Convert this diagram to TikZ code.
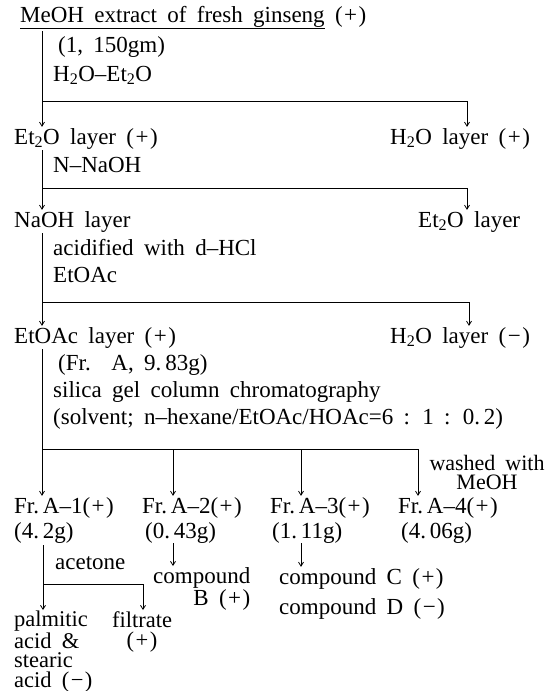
\documentclass[tikz,border=0pt]{standalone}
\usepackage{fontspec}
\setmainfont{Liberation Serif}[WordSpace={1.8}]
\usetikzlibrary{arrows.meta}
\newcommand\sbt[1]{\textsubscript{#1}}
\newcommand\pl{(\kern1.5pt+\kern1.5pt)}
\newcommand\mn{(\kern1.5pt−\kern1.5pt)}
\begin{document}
\begin{tikzpicture}[x=1pt,y=-1pt,
  font=\fontsize{23}{21}\selectfont,
  txt/.style={anchor=base west, inner sep=0pt},
  ln/.style={line width=0.8pt},
  arr/.style={line width=0.8pt, -{Straight Barb[length=4pt,width=5pt]}, shorten >=1pt}]
\useasboundingbox[fill=white] (0,0) rectangle (550,691);

% texts
\node[txt] (t0) at (20,22) {\underline{MeOH extract of fresh ginseng} \pl};
\node[txt] (w1) at (58,52) {(1, 150gm)};
\node[txt] (s1) at (53,81) {H\sbt{2}O–Et\sbt{2}O};
\node[txt] (et1) at (14,144) {Et\sbt{2}O layer \pl};
\node[txt] (aq1) at (390,144) {H\sbt{2}O layer \pl};
\node[txt] (s2) at (53,172) {N–NaOH};
\node[txt] (na) at (14,227) {NaOH layer};
\node[txt] (et2) at (418,227) {Et\sbt{2}O layer};
\node[txt] (s3) at (53,255) {acidified with d–HCl};
\node[txt] (s4) at (53,282) {EtOAc};
\node[txt] (ea) at (14,343) {EtOAc layer \pl};
\node[txt] (aq2) at (390,343) {H\sbt{2}O layer \mn};
\node[txt] (w2) at (58,370) {(Fr.\ \ A, 9.\,83g)};
\node[txt] (s5) at (53,397) {silica gel column chromatography};
\node[txt] (s6) at (53,424) {(solvent; n–hexane/EtOAc/HOAc=6 : 1 : 0.\,2)};
\node[anchor=north, inner sep=0pt, align=center, font=\fontsize{22}{19}\selectfont] (wash) at (487,455) {washed with\\MeOH};
\node[txt] (a1) at (14,513) {Fr.\,A–1\pl};
\node[txt] (a2) at (142,513) {Fr.\,A–2\pl};
\node[txt] (a3) at (270,513) {Fr.\,A–3\pl};
\node[txt] (a4) at (398,513) {Fr.\,A–4\pl};
\node[txt] (g1) at (14,538) {(4.\,2g)};
\node[txt] (g2) at (145,538) {(0.\,43g)};
\node[txt] (g3) at (272,538) {(1.\,11g)};
\node[txt] (g4) at (401,538) {(4.\,06g)};
\node[txt] (ac) at (55,569) {acetone};
\node[anchor=north west, inner sep=0pt, align=right, font=\fontsize{23}{18}\selectfont] (cb) at (153,567) {compound\\B \pl};
\node[txt] (cc) at (279,584) {compound C \pl};
\node[txt] (cd) at (279,614) {compound D \mn};
\node[anchor=north west, inner sep=0pt, align=left, font=\fontsize{22.5}{19.5}\selectfont] (pa) at (14,611) {palmitic\\acid \&\\stearic\\acid \mn};
\node[anchor=north, inner sep=0pt, align=center, font=\fontsize{22.5}{20.5}\selectfont] (fi) at (142,611) {filtrate\\\pl};

% junctions
\coordinate (v0) at (42,31);
\coordinate (j1) at (42,101);
\coordinate (r1) at (467,101);
\coordinate (v1) at (42,150);
\coordinate (j2) at (42,188);
\coordinate (r2) at (467,188);
\coordinate (v2) at (42,233);
\coordinate (j3) at (42,302);
\coordinate (r3) at (469,302);
\coordinate (v3) at (42,349);
\coordinate (j4) at (42,449);
\coordinate (r4a) at (173,449);
\coordinate (r4b) at (301,449);
\coordinate (r4c) at (418,449);
\coordinate (v4) at (43,545);
\coordinate (j5) at (43,584);
\coordinate (r5) at (143,584);

% connectors
\draw[ln] (v0) -- (j1) -- (r1);
\draw[arr] (j1) -- (j1 |- et1.north);
\draw[arr] (r1) -- (r1 |- aq1.north);
\draw[ln] (v1) -- (j2) -- (r2);
\draw[arr] (j2) -- (j2 |- na.north);
\draw[arr] (r2) -- (r2 |- et2.north);
\draw[ln] (v2) -- (j3) -- (r3);
\draw[arr] (j3) -- (j3 |- ea.north);
\draw[arr] (r3) -- (r3 |- aq2.north);
\draw[ln] (v3) -- (j4) -- (r4c);
\draw[arr] (j4) -- (j4 |- a1.north);
\draw[arr] (r4a) -- (r4a |- a2.north);
\draw[arr] (r4b) -- (r4b |- a3.north);
\draw[arr] (r4c) -- (r4c |- a4.north);
\draw[arr] (g2.south -| r4a) -- (r4a |- cb.north);
\draw[arr] (g3.south -| r4b) -- (r4b |- cc.north);
\draw[ln] (v4) -- (j5) -- (r5);
\draw[arr] (j5) -- (j5 |- pa.north);
\draw[arr] (r5) -- (r5 |- fi.north);
\end{tikzpicture}
\end{document}
